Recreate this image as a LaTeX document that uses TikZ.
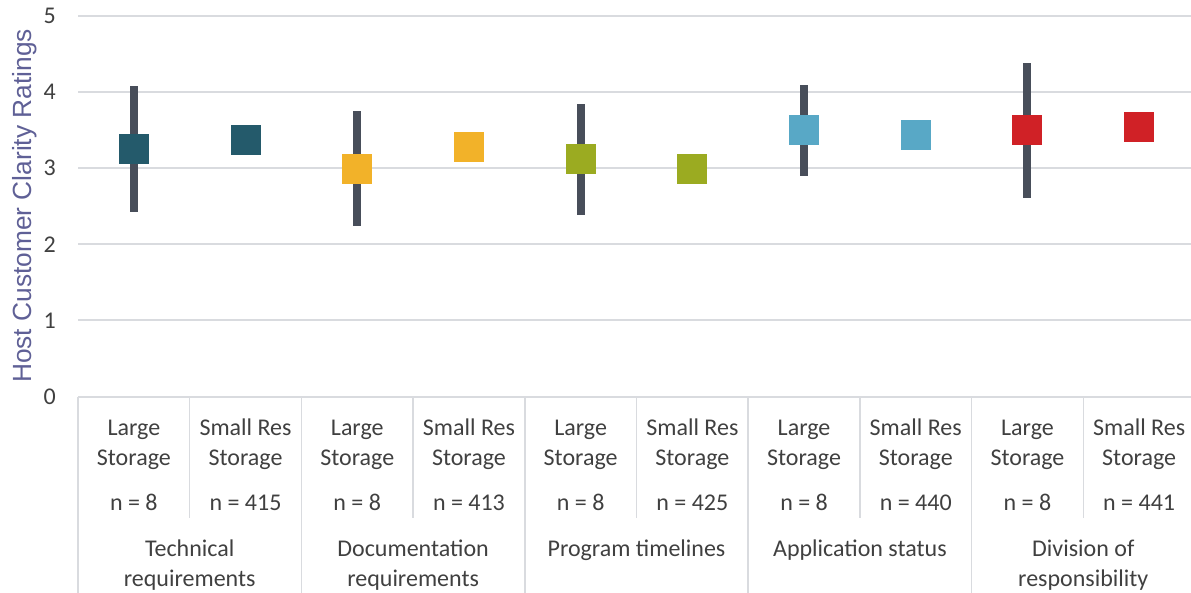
\documentclass[tikz,border=0pt]{standalone}
\usepackage{fontspec}
\setmainfont{Carlito}
\newfontfamily\axisfont{Liberation Sans}
\usepackage{tikz}

\definecolor{gridgray}{HTML}{D9DBDF}
\definecolor{labelgray}{HTML}{404040}
\definecolor{titlepurple}{HTML}{5F6096}
\definecolor{barslate}{HTML}{484E5A}
\definecolor{techteal}{HTML}{245A6B}
\definecolor{docorange}{HTML}{F2B229}
\definecolor{proggreen}{HTML}{9BAB21}
\definecolor{appblue}{HTML}{58A8C6}
\definecolor{divred}{HTML}{D02126}

\begin{document}
\begin{tikzpicture}[x=1pt,y=-1pt,
                    grid line/.style={gridgray,line width=2pt},
                    table line/.style={gridgray,line width=1.5pt},
                    lbl/.style={anchor=base,inner sep=0pt,text=labelgray,font=\fontsize{24}{30}\selectfont},
                    tick lbl/.style={anchor=east,inner sep=0pt,text=labelgray,font=\fontsize{24}{30}\selectfont},
                    marker/.style={rectangle,minimum size=30pt,inner sep=0pt},
                    err bar/.style={fill=barslate}]

  \useasboundingbox (0,0) rectangle (1191,593);

  % axis title
  \node[rotate=90,anchor=base,text=titlepurple,font=\axisfont\fontsize{26.3}{30}\selectfont]
    (ytitle) at (31,206) {Host Customer Clarity Ratings};

  % grid and values
  \begin{scope}[yshift=-396.5pt,y=76.1pt]
    \foreach \k in {0,...,5}{
      \draw[grid line] (78,\k) -- (1191,\k);
      \node[tick lbl] (tick\k) at (56,\k) {\k};
    }

    \foreach \i/\v/\lo/\hi/\col in {0/3.25/2.42/4.08/techteal,
                                    2/2.99/2.24/3.75/docorange,
                                    4/3.12/2.39/3.85/proggreen,
                                    6/3.50/2.90/4.09/appblue,
                                    8/3.50/2.61/4.38/divred}{
      \fill[err bar] ({78+111.7*(\i+0.5)-4},\lo) rectangle ({78+111.7*(\i+0.5)+4},\hi);
      \node[marker,fill=\col] (large\i) at ({78+111.7*(\i+0.5)},\v) {};
    }

    \foreach \i/\v/\col in {1/3.37/techteal,
                            3/3.28/docorange,
                            5/2.99/proggreen,
                            7/3.43/appblue,
                            9/3.54/divred}
      \node[marker,fill=\col] (small\i) at ({78+111.7*(\i+0.5)},\v) {};
  \end{scope}

  % category table
  \foreach \k in {1,3,5,7,9}
    \draw[table line] ({78+111.7*\k},396.5) -- ({78+111.7*\k},518);
  \foreach \k in {0,2,4,6,8}
    \draw[table line] ({78+111.7*\k},396.5) -- ({78+111.7*\k},593);

  \foreach \i/\cap/\n in {0/Large/8, 1/Small Res/415, 2/Large/8, 3/Small Res/413,
                          4/Large/8, 5/Small Res/425, 6/Large/8, 7/Small Res/440,
                          8/Large/8, 9/Small Res/441}{
    \node[lbl] (cap\i) at ({78+111.7*(\i+0.5)},435) {\cap};
    \node[lbl] (sto\i) at ({78+111.7*(\i+0.5)},465) {Storage};
    \node[lbl] (n\i) at ({78+111.7*(\i+0.5)},510) {n = \n};
  }

  \node[lbl] (techA) at (189.7,556.5) {Technical};
  \node[lbl] (techB) at (189.7,586.5) {requirements};
  \node[lbl] (docA) at (413.1,556.5) {Documentation};
  \node[lbl] (docB) at (413.1,586.5) {requirements};
  \node[lbl] (prog) at (636.5,556.5) {Program timelines};
  \node[lbl] (app) at (859.9,556.5) {Application status};
  \node[lbl] (divA) at (1083.3,556.5) {Division of};
  \node[lbl] (divB) at (1083.3,586.5) {responsibility};

\end{tikzpicture}
\end{document}
